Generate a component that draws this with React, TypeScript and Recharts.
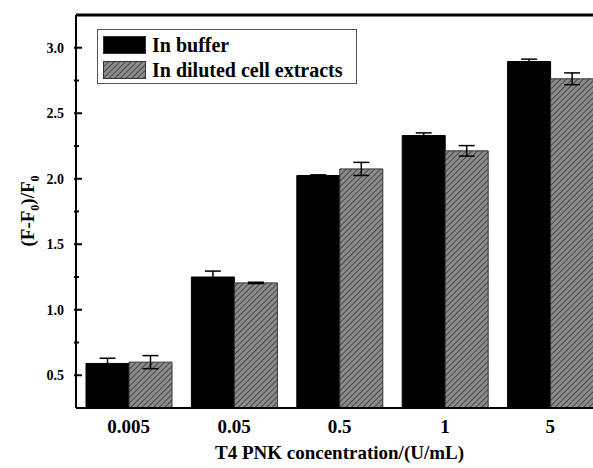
import { BarChart, Bar, XAxis, YAxis, ErrorBar, ReferenceLine } from 'recharts';

const categories = ['0.005', '0.05', '0.5', '1', '5'];
const bufferValues = [0.59, 1.25, 2.025, 2.33, 2.895];
const bufferErrors = [0.04, 0.045, 0.005, 0.02, 0.018];
const extractValues = [0.6, 1.205, 2.075, 2.213, 2.763];
const extractErrors = [0.05, 0.005, 0.05, 0.04, 0.045];
const majorTicks = [0.5, 1.0, 1.5, 2.0, 2.5, 3.0];
const allTicks = [0.5, 0.75, 1.0, 1.25, 1.5, 1.75, 2.0, 2.25, 2.5, 2.75, 3.0];

const data = categories.map((c, i) => ({
    name: c,
    buffer: bufferValues[i],
    bufferErr: bufferErrors[i],
    extract: extractValues[i],
    extractErr: extractErrors[i],
}));

const FONT = 'Liberation Serif, Times New Roman, serif';

function YTick(props: any) {
    const { x, y, payload } = props;
    const major = majorTicks.some((t) => Math.abs(t - payload.value) < 1e-6);
    return (
        <g>
            <line x1={x} y1={y} x2={x + (major ? 8 : 5)} y2={y} stroke="#000" strokeWidth={2} />
            {major && (
                <text x={x - 10} y={y} dy={5} textAnchor="end" fontFamily={FONT} fontWeight="bold" fontSize={14} fill="#000">
                    {payload.value.toFixed(1)}
                </text>
            )}
        </g>
    );
}

function YLabel() {
    return (
        <text transform="translate(34, 211) rotate(-90)" textAnchor="middle" fontFamily={FONT} fontWeight="bold" fontSize={19} fill="#000">
            <tspan>(F-F</tspan>
            <tspan fontSize={12} dy={5}>0</tspan>
            <tspan dy={-5}>)/F</tspan>
            <tspan fontSize={12} dy={5}>0</tspan>
        </text>
    );
}

function LegendBox() {
    const row = (label: string, fill: string, top: number) => (
        <div style={{ display: 'flex', alignItems: 'center', position: 'absolute', left: 5, top }}>
            <svg width={43} height={18}>
                <rect x={0.5} y={0.5} width={42} height={17} fill={fill} stroke="#333" />
            </svg>
            <span style={{ marginLeft: 6, fontFamily: FONT, fontWeight: 'bold', fontSize: 20, color: '#000', lineHeight: '18px' }}>{label}</span>
        </div>
    );
    return (
        <div style={{ position: 'absolute', left: 97, top: 29, width: 258, height: 53, border: '1px solid #555', background: '#fff' }}>
            {row('In buffer', '#000', 6)}
            {row('In diluted cell extracts', 'url(#hatch)', 31)}
        </div>
    );
}

export default function App() {
    return (
        <div style={{ position: 'absolute', left: 0, top: 0, width: 593, height: 468, overflow: 'hidden', background: '#fff' }}>
            <BarChart
                width={605}
                height={468}
                data={data}
                margin={{ top: 15, right: 2, left: 0, bottom: 0 }}
                barCategoryGap={10}
                barGap={0}
            >
                <defs>
                    <pattern id="hatch" patternUnits="userSpaceOnUse" width={4} height={4} patternTransform="rotate(45)">
                        <rect width={4} height={4} fill="#8c8c8c" />
                        <line x1={0} y1={0} x2={0} y2={4} stroke="#2e2e2e" strokeWidth={1.5} />
                    </pattern>
                </defs>
                <XAxis
                    dataKey="name"
                    height={60}
                    tickLine={false}
                    axisLine={{ stroke: '#000', strokeWidth: 2 }}
                    tick={{ fontFamily: FONT, fontWeight: 'bold', fontSize: 19, fill: '#000' }}
                    tickMargin={6}
                    label={{ value: 'T4 PNK concentration/(U/mL)', position: 'insideBottom', offset: 9, fontFamily: FONT, fontWeight: 'bold', fontSize: 19, fill: '#000' }}
                />
                <YAxis
                    width={76}
                    domain={[0.25, 3.25]}
                    ticks={allTicks}
                    interval={0}
                    tickSize={0}
                    tickLine={false}
                    axisLine={{ stroke: '#000', strokeWidth: 2 }}
                    tick={<YTick />}
                    label={<YLabel />}
                />
                <ReferenceLine y={3.25} stroke="#000" strokeWidth={3} />
                <Bar dataKey="buffer" fill="#000" stroke="#000" isAnimationActive={false}>
                    <ErrorBar dataKey="bufferErr" width={8} stroke="#000" strokeWidth={1.5} />
                </Bar>
                <Bar dataKey="extract" fill="url(#hatch)" stroke="#333" strokeWidth={1} isAnimationActive={false}>
                    <ErrorBar dataKey="extractErr" width={8} stroke="#000" strokeWidth={1.5} />
                </Bar>
            </BarChart>
            <LegendBox />
        </div>
    );
}
